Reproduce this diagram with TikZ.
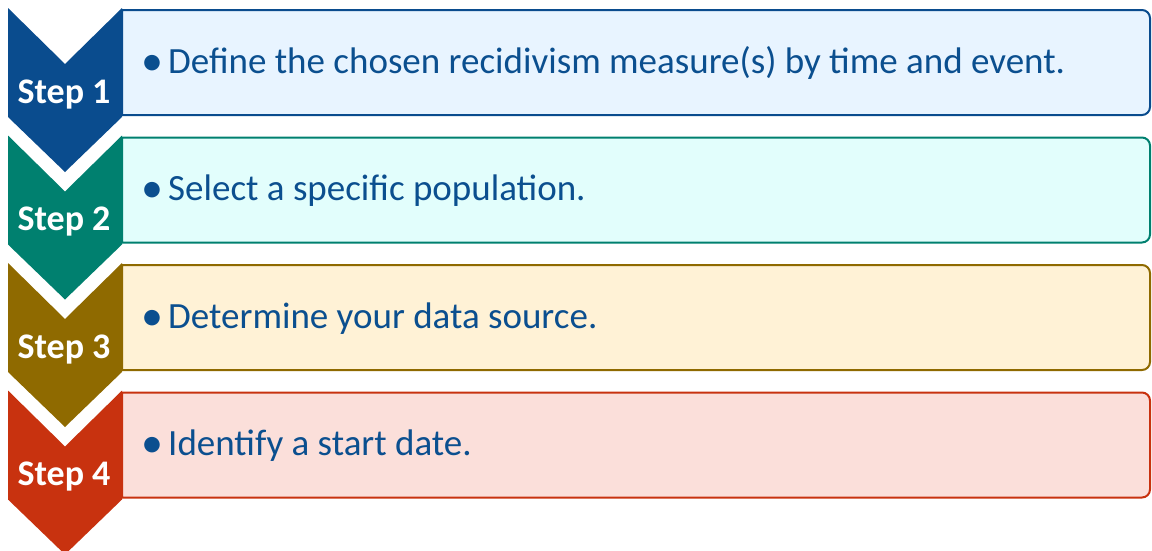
\documentclass[tikz,border=0pt]{standalone}
\usepackage{fontspec}
\setmainfont{Carlito}
\definecolor{cA}{HTML}{0A4C8E}
\definecolor{cB}{HTML}{00806F}
\definecolor{cC}{HTML}{8F6A00}
\definecolor{cD}{HTML}{C8320F}
\definecolor{fA}{HTML}{E8F4FF}
\definecolor{fB}{HTML}{E2FEFC}
\definecolor{fC}{HTML}{FFF2D6}
\definecolor{fD}{HTML}{FBDFDA}
\definecolor{txtc}{HTML}{0B4F8F}
\tikzset{
  boxline/.style={line width=2pt},
  steplabel/.style={text=white,font=\fontsize{36}{40}\selectfont\bfseries,inner sep=0pt,anchor=base},
  itemtext/.style={text=txtc,font=\fontsize{37}{42}\selectfont,inner sep=0pt,anchor=base west},
  bulletmark/.style={text=txtc,font=\fontsize{44}{48}\selectfont,inner sep=0pt,anchor=center},
}
\begin{document}
\begin{tikzpicture}[x=1pt,y=-1pt]
\useasboundingbox (0,0) rectangle (1152,550);
\foreach \i/\cc/\ff/\lab/\txt in {0/cA/fA/Step 1/Define the chosen recidivism measure(s) by time and event.,
                                  1/cB/fB/Step 2/Select a specific population.,
                                  2/cC/fC/Step 3/Determine your data source.,
                                  3/cD/fD/Step 4/Identify a start date.}{
  \pgfmathsetmacro{\yo}{8+127.5*\i}
  % box
  \filldraw[boxline,draw=\cc,fill=\ff]
    (122,\yo+2) -- (1142,\yo+2) arc[start angle=-90,end angle=0,radius=8]
    -- (1150,\yo+99) arc[start angle=0,end angle=90,radius=8]
    -- (122,\yo+107) -- cycle;
  % chevron
  \fill[\cc] (8,\yo) -- (65,\yo+56) -- (122,\yo) -- (122,\yo+109) -- (65,\yo+164) -- (8,\yo+109) -- cycle;
  \node[steplabel] (s\i) at (64,\yo+95) {\lab};
  \node[bulletmark] (b\i) at (152,\yo+57) {•};
  \node[itemtext] (t\i) at (168,\yo+65) {\txt};
}
\end{tikzpicture}
\end{document}
